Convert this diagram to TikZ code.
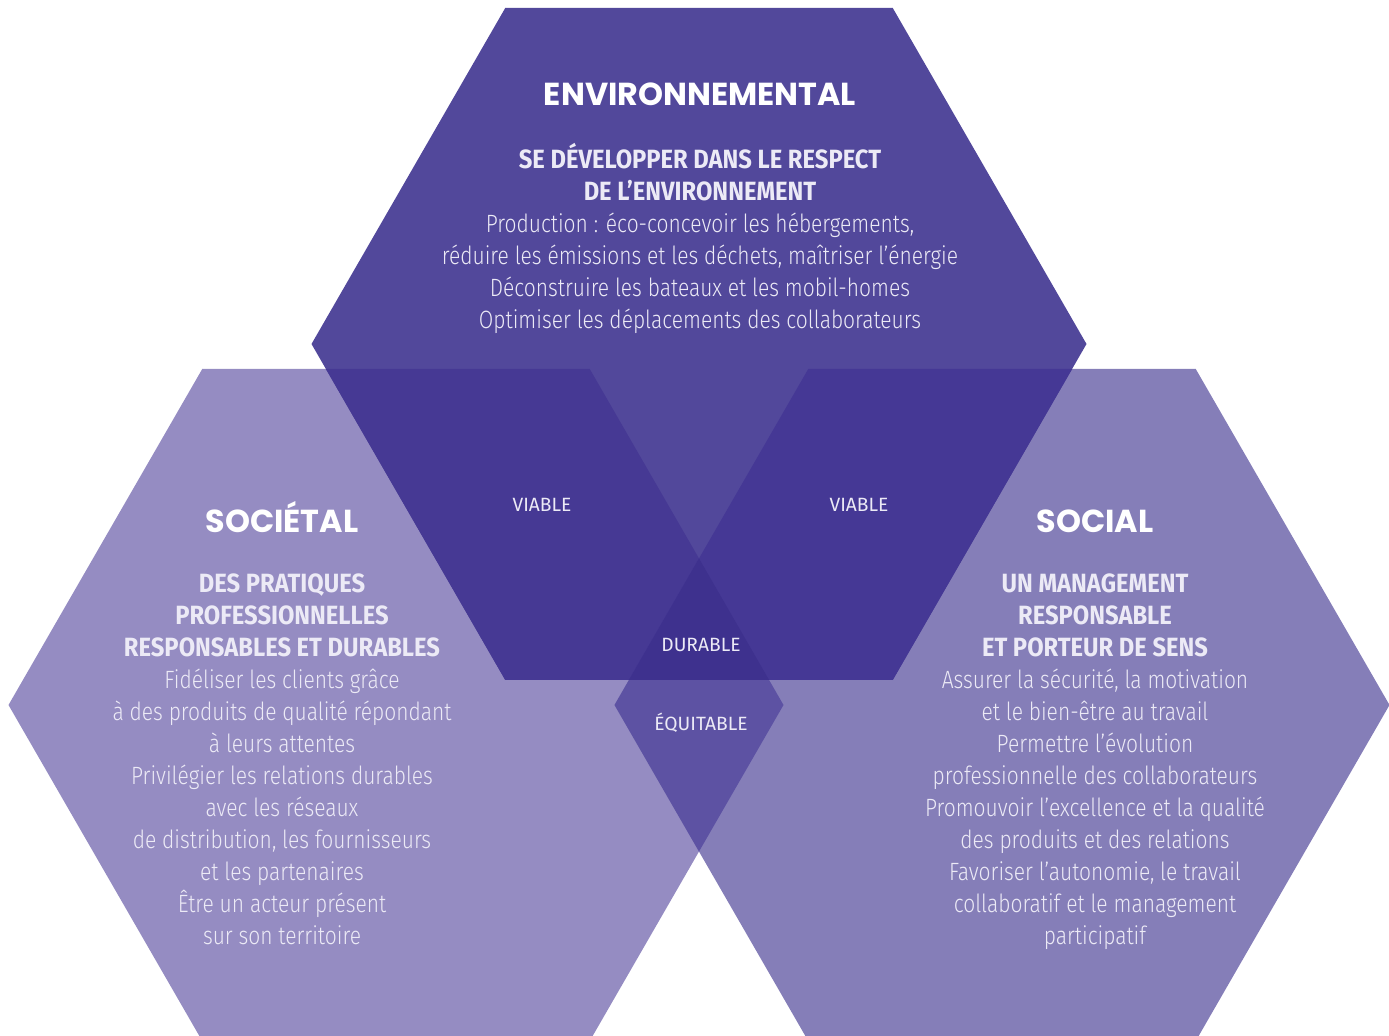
\documentclass[tikz,border=0pt]{standalone}
\usepackage{fontspec}
\usepackage{xcolor}
\usepackage{tikz}
\usetikzlibrary{positioning}

\newfontfamily\titlefont{Poppins Bold}
\newfontfamily\leadfont{Fira Sans Bold}[FakeStretch=0.9]
\newfontfamily\bodyfont{Fira Sans Light}[FakeStretch=0.84]
\newfontfamily\zonefont{Fira Sans}

\definecolor{envfill}{RGB}{82,72,155}
\definecolor{socfill}{RGB}{149,140,194}
\definecolor{socialfill}{RGB}{133,126,184}
\definecolor{envsoc}{RGB}{70,57,148}
\definecolor{envsocial}{RGB}{69,56,149}
\definecolor{socsocial}{RGB}{93,82,163}
\definecolor{allthree}{RGB}{62,49,142}
\definecolor{paletext}{RGB}{236,234,246}

% flat-topped hexagon around a named centre
\newcommand{\hexagon}[1]{([shift={(#1)}]-387.5,0) -- ([shift={(#1)}]-193.75,-336)
  -- ([shift={(#1)}]193.75,-336) -- ([shift={(#1)}]387.5,0)
  -- ([shift={(#1)}]193.75,336) -- ([shift={(#1)}]-193.75,336) -- cycle}

\tikzset{
hextitle/.style={
text=white,
inner sep=0pt,
anchor=base,
font=\titlefont\fontsize{15.9}{18}\selectfont
},
hextext/.style={
text=paletext,
inner sep=0pt,
align=center,
font=\bodyfont\fontsize{12.5}{16}\selectfont
},
zonelabel/.style={
text=paletext,
inner sep=0pt,
font=\zonefont\fontsize{9.6}{11}\selectfont
}
}

\begin{document}
\begin{tikzpicture}[x=0.5pt,y=-0.5pt]
\useasboundingbox (0,0) rectangle (1389,1036);
\clip (0,0) rectangle (1389,1036);

\coordinate (env) at (699,344);
\coordinate (soc) at (396,705);
\coordinate (social) at (1002,705);

% the three hexagons
\fill[socfill] \hexagon{soc};
\fill[socialfill] \hexagon{social};
\fill[envfill] \hexagon{env};

% overlaps
\begin{scope}
\clip \hexagon{soc};
\fill[socsocial] \hexagon{social};
\end{scope}
\begin{scope}
\clip \hexagon{env};
\fill[envsoc] \hexagon{soc};
\fill[envsocial] \hexagon{social};
\end{scope}
\begin{scope}
\clip \hexagon{env};
\clip \hexagon{soc};
\fill[allthree] \hexagon{social};
\end{scope}

% top: environnemental
\node[hextitle](envtitle) at (700,106){ENVIRONNEMENTAL};
\node[hextext](envtext) at (700,238){{\leadfont\fontsize{13.2}{16}\selectfont SE DÉVELOPPER DANS LE RESPECT}\\
{\leadfont\fontsize{13.2}{16}\selectfont DE L’ENVIRONNEMENT}\\
Production : éco-concevoir les hébergements,\\
réduire les émissions et les déchets, maîtriser l’énergie\\
Déconstruire les bateaux et les mobil-homes\\
Optimiser les déplacements des collaborateurs};

% left: sociétal
\node[hextitle](soctitle) at (282,533){SOCIÉTAL};
\node[hextext](soctext) at (282,759){{\leadfont\fontsize{13.2}{16}\selectfont DES PRATIQUES}\\
{\leadfont\fontsize{13.2}{16}\selectfont PROFESSIONNELLES}\\
{\leadfont\fontsize{13.2}{16}\selectfont RESPONSABLES ET DURABLES}\\
Fidéliser les clients grâce\\
à des produits de qualité répondant\\
à leurs attentes\\
Privilégier les relations durables\\
avec les réseaux\\
de distribution, les fournisseurs\\
et les partenaires\\
Être un acteur présent\\
sur son territoire};

% right: social
\node[hextitle](socialtitle) at (1095,533){SOCIAL};
\node[hextext](socialtext) at (1095,762){{\leadfont\fontsize{13.2}{16}\selectfont UN MANAGEMENT}\\
{\leadfont\fontsize{13.2}{16}\selectfont RESPONSABLE}\\
{\leadfont\fontsize{13.2}{16}\selectfont ET PORTEUR DE SENS}\\
Assurer la sécurité, la motivation\\
et le bien-être au travail\\
Permettre l’évolution\\
professionnelle des collaborateurs\\
Promouvoir l’excellence et la qualité\\
des produits et des relations\\
Favoriser l’autonomie, le travail\\
collaboratif et le management\\
participatif};

% overlap labels
\node[zonelabel](viableleft) at (542,505){VIABLE};
\node[zonelabel](viableright) at (859,505){VIABLE};
\node[zonelabel](durable) at (701,645){DURABLE};
\node[zonelabel](equitable) at (701,723){ÉQUITABLE};
\end{tikzpicture}
\end{document}
